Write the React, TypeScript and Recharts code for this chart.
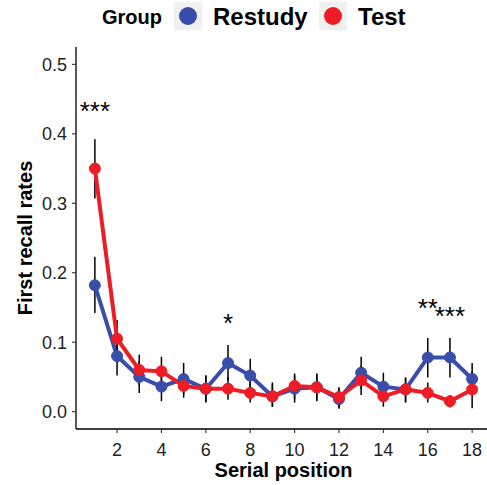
import React from 'react';
import { LineChart, Line, XAxis, YAxis, ErrorBar, ReferenceDot } from 'recharts';

const positions = [1, 2, 3, 4, 5, 6, 7, 8, 9, 10, 11, 12, 13, 14, 15, 16, 17, 18];
const restudy = [0.182, 0.080, 0.050, 0.036, 0.047, 0.033, 0.070, 0.052, 0.022, 0.033, 0.035, 0.018, 0.056, 0.036, 0.032, 0.078, 0.078, 0.047];
const restudyLow = [0.142, 0.052, 0.027, 0.015, 0.025, 0.013, 0.045, 0.029, 0.007, 0.013, 0.015, 0.004, 0.033, 0.016, 0.013, 0.049, 0.049, 0.024];
const restudyHigh = [0.223, 0.108, 0.073, 0.057, 0.070, 0.052, 0.096, 0.076, 0.040, 0.052, 0.055, 0.033, 0.079, 0.056, 0.049, 0.106, 0.106, 0.070];
const test = [0.350, 0.105, 0.060, 0.058, 0.037, 0.033, 0.033, 0.027, 0.022, 0.037, 0.035, 0.021, 0.045, 0.022, 0.032, 0.027, 0.015, 0.032];
const testLow = [0.307, 0.078, 0.038, 0.037, 0.020, 0.014, 0.017, 0.013, 0.007, 0.018, 0.016, 0.006, 0.024, 0.007, 0.014, 0.013, 0.006, 0.005];
const testHigh = [0.392, 0.132, 0.082, 0.079, 0.055, 0.052, 0.050, 0.043, 0.042, 0.055, 0.054, 0.035, 0.066, 0.038, 0.049, 0.042, 0.024, 0.058];

const xTicks = [2, 4, 6, 8, 10, 12, 14, 16, 18];
const yTicks = [0, 0.1, 0.2, 0.3, 0.4, 0.5];

const annotations = [
  { x: 1, y: 0.42, text: '***' },
  { x: 7, y: 0.114, text: '*' },
  { x: 16, y: 0.136, text: '**' },
  { x: 17, y: 0.125, text: '***' },
];

const BLUE = '#3A4DA8';
const RED = '#EE1D25';
const FONT = '"Liberation Sans", Arial, Helvetica, sans-serif';

const data = positions.map((p, i) => ({
  pos: p,
  restudy: restudy[i],
  test: test[i],
  restudyErr: [restudy[i] - restudyLow[i], restudyHigh[i] - restudy[i]],
  testErr: [test[i] - testLow[i], testHigh[i] - test[i]],
}));

const tickStyle = { fontSize: 18, fill: '#222', fontFamily: FONT };

export default function App() {
  return (
    <div style={{ position: 'absolute', left: 0, top: 0, width: 487, height: 485, overflow: 'hidden', background: '#fff', fontFamily: FONT }}>
      <LineChart width={491} height={485} data={data} margin={{ top: 47, right: 0, bottom: 0, left: 0 }}>
        <XAxis
          type="number"
          dataKey="pos"
          domain={[0.15, 18.85]}
          ticks={xTicks}
          allowDataOverflow
          height={56}
          tick={tickStyle}
          tickSize={4}
          tickMargin={10}
          axisLine={{ stroke: '#000', strokeWidth: 1.3 }}
          tickLine={{ stroke: '#333', strokeWidth: 1.1 }}
          label={{
            content: () => (
              <text x={283.5} y={477} textAnchor="middle" fontSize={20} fontWeight="bold" fill="#000" fontFamily={FONT}>
                Serial position
              </text>
            ),
          }}
        />
        <YAxis
          type="number"
          domain={[-0.025, 0.525]}
          ticks={yTicks}
          allowDataOverflow
          width={76}
          tick={tickStyle}
          tickSize={4}
          tickMargin={5}
          tickFormatter={(v: number) => v.toFixed(1)}
          axisLine={{ stroke: '#000', strokeWidth: 1.3 }}
          tickLine={{ stroke: '#333', strokeWidth: 1.1 }}
          label={{
            content: () => (
              <text x={32} y={238} transform="rotate(-90, 32, 238)" textAnchor="middle" fontSize={20} fontWeight="bold" fill="#000" fontFamily={FONT}>
                First recall rates
              </text>
            ),
          }}
        />
        <Line
          dataKey="restudy"
          stroke={BLUE}
          strokeWidth={4}
          dot={{ r: 5.5, fill: BLUE, stroke: BLUE, strokeWidth: 1 }}
          activeDot={false}
          isAnimationActive={false}
        >
          <ErrorBar dataKey="restudyErr" direction="y" width={0} stroke="#000" strokeWidth={1.5} isAnimationActive={false} />
        </Line>
        <Line
          dataKey="test"
          stroke={RED}
          strokeWidth={4}
          dot={{ r: 5.5, fill: RED, stroke: RED, strokeWidth: 1 }}
          activeDot={false}
          isAnimationActive={false}
        >
          <ErrorBar dataKey="testErr" direction="y" width={0} stroke="#000" strokeWidth={1.5} isAnimationActive={false} />
        </Line>
        {annotations.map((a, i) => (
          <ReferenceDot
            key={i}
            x={a.x}
            y={a.y}
            r={0}
            shape={(props: any) => (
              <text x={props.cx} y={props.cy} textAnchor="middle" fontSize={26} fill="#000" fontFamily={FONT}>
                {a.text}
              </text>
            )}
          />
        ))}
      </LineChart>
      <svg width={487} height={40} style={{ position: 'absolute', left: 0, top: 0 }}>
        <text x={102} y={24} fontSize={20} fontWeight="bold" fill="#000" fontFamily={FONT}>Group</text>
        <rect x={174} y={2} width={28} height={28} fill="#F0F0F0" />
        <circle cx={188} cy={16} r={9} fill={BLUE} />
        <text x={213} y={25} fontSize={24} fontWeight="bold" fill="#000" fontFamily={FONT}>Restudy</text>
        <rect x={319} y={2} width={28} height={28} fill="#F0F0F0" />
        <circle cx={333} cy={16} r={9} fill={RED} />
        <text x={358} y={25} fontSize={24} fontWeight="bold" fill="#000" fontFamily={FONT}>Test</text>
      </svg>
    </div>
  );
}
